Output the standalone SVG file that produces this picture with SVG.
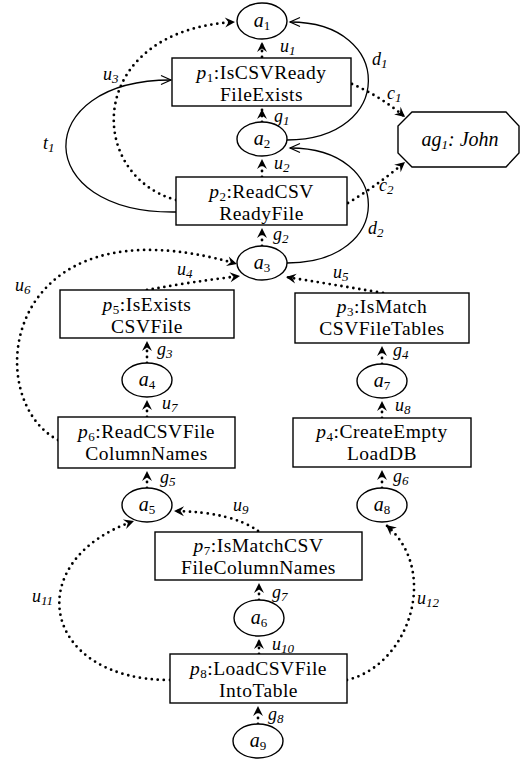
<svg xmlns="http://www.w3.org/2000/svg" width="521" height="763" viewBox="0 0 521 763">
  <style>
    .box { fill: #fff; stroke: #000; stroke-width: 1.4; }
    .st { fill: #fff; stroke: #000; stroke-width: 1.4; }
    .dot { fill: none; stroke: #000; stroke-width: 2.8; stroke-dasharray: 0 6; stroke-linecap: round; marker-end: url(#ah); }
    .sol { fill: none; stroke: #000; stroke-width: 1.3; marker-end: url(#oh); }
    .t { font-family: "Liberation Serif", "Times New Roman", serif; font-size: 19.5px; letter-spacing: 0.5px; fill: #000; text-anchor: middle; }
    .n { font-family: "Liberation Serif", "Times New Roman", serif; font-size: 20px; font-style: italic; fill: #000; text-anchor: middle; }
    .lb { font-family: "Liberation Serif", "Times New Roman", serif; font-size: 18px; font-style: italic; fill: #000; }
    .sb { font-size: 13px; }
    .up { font-style: normal; }
    .it { font-style: italic; }
  </style>
  <defs>
    <!-- notched filled head for dotted arcs -->
    <marker id="ah" markerUnits="userSpaceOnUse" markerWidth="14" markerHeight="14" viewBox="-11 -7 14 14" refX="0" refY="0" orient="auto">
      <path d="M-10,-5 L0,0 L-10,5 L-6.5,0 z" fill="#000"/>
    </marker>
    <!-- open head for solid arcs -->
    <marker id="oh" markerUnits="userSpaceOnUse" markerWidth="14" markerHeight="14" viewBox="-12 -7 14 14" refX="0" refY="0" orient="auto">
      <path d="M-10,-4.5 L0,0 L-10,4.5" fill="none" stroke="#000" stroke-width="1.2"/>
    </marker>
  </defs>

  <!-- connectors -->
  <g id="connectors">
    <path class="sol" d="M176,212 C 30,214 30,80 171,80"/>
    <path class="dot" d="M176,200 C 85,175 85,30 235,22"/>
    <path class="sol" d="M287,140 C 395,140 395,22 290,22"/>
    <path class="sol" d="M287,263 C 395,263 395,148 290,148"/>
    <path class="dot" d="M352,84 Q 380,96 405,117"/>
    <path class="dot" d="M348,203 Q 378,185 405,162"/>
    <path class="dot" d="M147,290 Q 190,282 240,276"/>
    <path class="dot" d="M383,293 Q 330,284 286,277"/>
    <path class="dot" d="M58,440 C -20,400 0,195 237,264"/>
    <path class="dot" d="M170,680 C 40,680 20,560 134,521"/>
    <path class="dot" d="M347,680 C 410,665 440,570 386,525"/>
    <path class="dot" d="M258,531 Q 232,512 174,511"/>
    <!-- short vertical links -->
    <path class="dot" d="M262,57 L262,42"/>
    <path class="dot" d="M262,122 L262,109"/>
    <path class="dot" d="M262,177 L262,159"/>
    <path class="dot" d="M262,246 L262,228"/>
    <path class="dot" d="M147,363 L147,341"/>
    <path class="dot" d="M147,417 L147,400"/>
    <path class="dot" d="M147,488 L147,471"/>
    <path class="dot" d="M382,364 L382,346"/>
    <path class="dot" d="M382,418 L382,401"/>
    <path class="dot" d="M382,488 L382,470"/>
    <path class="dot" d="M259,600 L259,583"/>
    <path class="dot" d="M259,654 L259,639"/>
    <path class="dot" d="M258,724 L258,706"/>
  </g>

  <!-- connector labels -->
  <g id="labels">
    <text class="lb" x="280" y="52">u<tspan class="sb" dy="3">1</tspan></text>
    <text class="lb" x="274" y="122">g<tspan class="sb" dy="3">1</tspan></text>
    <text class="lb" x="274" y="169">u<tspan class="sb" dy="3">2</tspan></text>
    <text class="lb" x="273" y="240">g<tspan class="sb" dy="3">2</tspan></text>
    <text class="lb" x="103" y="80">u<tspan class="sb" dy="3">3</tspan></text>
    <text class="lb" x="43" y="149">t<tspan class="sb" dy="3">1</tspan></text>
    <text class="lb" x="372" y="65">d<tspan class="sb" dy="3">1</tspan></text>
    <text class="lb" x="387" y="99">c<tspan class="sb" dy="3">1</tspan></text>
    <text class="lb" x="379" y="191">c<tspan class="sb" dy="3">2</tspan></text>
    <text class="lb" x="368" y="234">d<tspan class="sb" dy="3">2</tspan></text>
    <text class="lb" x="177" y="275">u<tspan class="sb" dy="3">4</tspan></text>
    <text class="lb" x="333" y="278">u<tspan class="sb" dy="3">5</tspan></text>
    <text class="lb" x="15" y="291">u<tspan class="sb" dy="3">6</tspan></text>
    <text class="lb" x="157" y="355">g<tspan class="sb" dy="3">3</tspan></text>
    <text class="lb" x="393" y="356">g<tspan class="sb" dy="3">4</tspan></text>
    <text class="lb" x="162" y="409">u<tspan class="sb" dy="3">7</tspan></text>
    <text class="lb" x="395" y="411">u<tspan class="sb" dy="3">8</tspan></text>
    <text class="lb" x="160" y="483">g<tspan class="sb" dy="3">5</tspan></text>
    <text class="lb" x="393" y="482">g<tspan class="sb" dy="3">6</tspan></text>
    <text class="lb" x="233" y="511">u<tspan class="sb" dy="3">9</tspan></text>
    <text class="lb" x="272" y="598">g<tspan class="sb" dy="3">7</tspan></text>
    <text class="lb" x="272" y="650">u<tspan class="sb" dy="3">10</tspan></text>
    <text class="lb" x="268" y="720">g<tspan class="sb" dy="3">8</tspan></text>
    <text class="lb" x="32" y="602">u<tspan class="sb" dy="3">11</tspan></text>
    <text class="lb" x="417" y="604">u<tspan class="sb" dy="3">12</tspan></text>
  </g>

  <!-- state nodes -->
  <g id="a1"><ellipse class="st" cx="262" cy="21" rx="25" ry="18"/><text class="n" x="262" y="27">a<tspan class="sb up" dy="3">1</tspan></text></g>
  <g id="a2"><ellipse class="st" cx="262" cy="139" rx="25" ry="17"/><text class="n" x="262" y="145">a<tspan class="sb up" dy="3">2</tspan></text></g>
  <g id="a3"><ellipse class="st" cx="262" cy="263" rx="25" ry="17"/><text class="n" x="262" y="269">a<tspan class="sb up" dy="3">3</tspan></text></g>
  <g id="a4"><ellipse class="st" cx="147" cy="380" rx="25" ry="17"/><text class="n" x="147" y="386">a<tspan class="sb up" dy="3">4</tspan></text></g>
  <g id="a7"><ellipse class="st" cx="382" cy="381" rx="25" ry="17"/><text class="n" x="382" y="387">a<tspan class="sb up" dy="3">7</tspan></text></g>
  <g id="a5"><ellipse class="st" cx="147" cy="505" rx="25" ry="17"/><text class="n" x="147" y="511">a<tspan class="sb up" dy="3">5</tspan></text></g>
  <g id="a8"><ellipse class="st" cx="382" cy="505" rx="25" ry="17"/><text class="n" x="382" y="511">a<tspan class="sb up" dy="3">8</tspan></text></g>
  <g id="a6"><ellipse class="st" cx="259" cy="618" rx="25" ry="18"/><text class="n" x="259" y="624">a<tspan class="sb up" dy="3">6</tspan></text></g>
  <g id="a9"><ellipse class="st" cx="258" cy="741" rx="25" ry="17"/><text class="n" x="258" y="747">a<tspan class="sb up" dy="3">9</tspan></text></g>

  <!-- process nodes: two-line labels -->
  <g id="p1"><rect class="box" x="172" y="58" width="179" height="48"/>
    <text class="t" x="261.5" y="79"><tspan class="it">p</tspan><tspan class="sb" dy="3">1</tspan><tspan dy="-3">:IsCSVReady</tspan><tspan x="261.5" y="101">FileExists</tspan></text></g>
  <g id="p2"><rect class="box" x="176" y="177" width="171" height="48"/>
    <text class="t" x="261.5" y="198"><tspan class="it">p</tspan><tspan class="sb" dy="3">2</tspan><tspan dy="-3">:ReadCSV</tspan><tspan x="261.5" y="220">ReadyFile</tspan></text></g>
  <g id="p5"><rect class="box" x="60" y="290" width="174" height="48"/>
    <text class="t" x="147" y="311"><tspan class="it">p</tspan><tspan class="sb" dy="3">5</tspan><tspan dy="-3">:IsExists</tspan><tspan x="147" y="333">CSVFile</tspan></text></g>
  <g id="p3"><rect class="box" x="295" y="293" width="174" height="50"/>
    <text class="t" x="382" y="313"><tspan class="it">p</tspan><tspan class="sb" dy="3">3</tspan><tspan dy="-3">:IsMatch</tspan><tspan x="382" y="335">CSVFileTables</tspan></text></g>
  <g id="p6"><rect class="box" x="58" y="417" width="177" height="51"/>
    <text class="t" x="146.5" y="438"><tspan class="it">p</tspan><tspan class="sb" dy="3">6</tspan><tspan dy="-3">:ReadCSVFile</tspan><tspan x="146.5" y="460">ColumnNames</tspan></text></g>
  <g id="p4"><rect class="box" x="293" y="418" width="178" height="49"/>
    <text class="t" x="382" y="438"><tspan class="it">p</tspan><tspan class="sb" dy="3">4</tspan><tspan dy="-3">:CreateEmpty</tspan><tspan x="382" y="460">LoadDB</tspan></text></g>
  <g id="p7"><rect class="box" x="155" y="532" width="207" height="48"/>
    <text class="t" x="258.5" y="552"><tspan class="it">p</tspan><tspan class="sb" dy="3">7</tspan><tspan dy="-3">:IsMatchCSV</tspan><tspan x="258.5" y="574">FileColumnNames</tspan></text></g>
  <g id="p8"><rect class="box" x="170" y="654" width="177" height="49"/>
    <text class="t" x="258.5" y="675"><tspan class="it">p</tspan><tspan class="sb" dy="3">8</tspan><tspan dy="-3">:LoadCSVFile</tspan><tspan x="258.5" y="697">IntoTable</tspan></text></g>

  <!-- agent node -->
  <g id="ag1">
    <polygon class="box" points="412,112 506,112 519,126 519,153 506,167 412,167 398,153 398,126"/>
    <text class="n" x="460" y="146">ag<tspan class="sb" dy="3">1</tspan><tspan dy="-3">: John</tspan></text>
  </g>
</svg>
